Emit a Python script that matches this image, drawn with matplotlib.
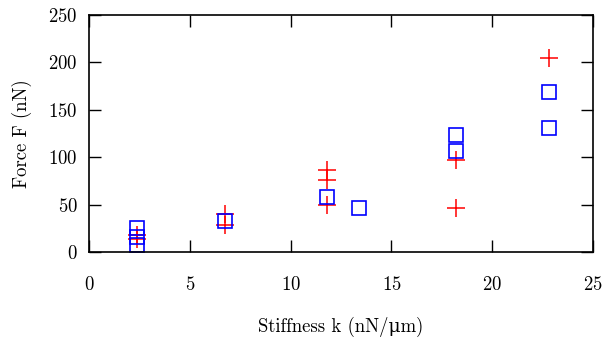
import matplotlib.pyplot as plt

plt.rcParams['font.family'] = ['cmr10', 'DejaVu Serif']
plt.rcParams['axes.formatter.use_mathtext'] = True

# red "+" series
red_k = [2.4, 2.4, 6.75, 6.75, 11.8, 11.8, 11.8, 18.2, 18.2, 22.8]
red_f = [14, 18, 40, 28, 86, 76, 50, 97, 46, 205]

# blue square series
blue_k = [2.4, 2.4, 2.4, 6.75, 11.8, 13.4, 18.2, 18.2, 22.8, 22.8]
blue_f = [25, 16, 7, 33, 58, 46, 123, 107, 169, 131]

xticks = [0, 5, 10, 15, 20, 25]
yticks = [0, 50, 100, 150, 200, 250]

fig = plt.figure(figsize=(6.07, 3.43), dpi=100)
ax = fig.add_axes([0.1466, 0.2653, 0.977 - 0.1466, 0.9563 - 0.2653])

ax.plot(red_k, red_f, linestyle='none', marker='+', color='#ff0000',
        markersize=12.5, markeredgewidth=1.1)
ax.plot(blue_k, blue_f, linestyle='none', marker='s', markerfacecolor='none',
        markeredgecolor='#0000ff', markersize=10.5, markeredgewidth=1.2)

ax.set_xlim(0, 25)
ax.set_ylim(0, 250)
ax.set_xticks(xticks)
ax.set_yticks(yticks)

for s in ax.spines.values():
    s.set_linewidth(1.2)

ax.tick_params(axis='both', direction='in', length=8.4, width=1.0,
               top=True, right=True, labelsize=13.5)
ax.tick_params(axis='x', pad=17)
ax.tick_params(axis='y', pad=8)

# greek mu (U+03BC) so it falls back to DejaVu Serif; cmr10 maps the micro sign wrong
ax.set_xlabel('Stiffness k (nN/\u03bcm)', fontsize=13.5, labelpad=17)
ax.set_ylabel('Force F (nN)', fontsize=13.5, labelpad=12)

fig.savefig('out.png', dpi=100)
